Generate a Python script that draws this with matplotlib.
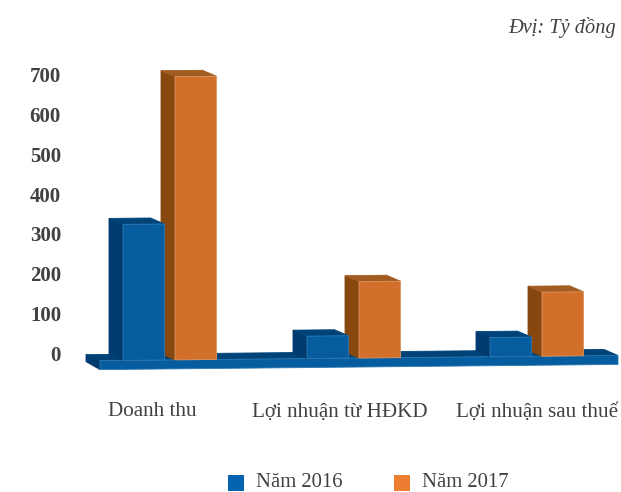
import matplotlib
matplotlib.use("Agg")
import matplotlib.pyplot as plt
from matplotlib.patches import Polygon

categories = ["Doanh thu", "Lợi nhuận từ HĐKD", "Lợi nhuận sau thuế"]
series_names = ["Năm 2016", "Năm 2017"]
values_2016 = [340, 56, 48]
values_2017 = [708, 191, 160]
y_ticks = [0, 100, 200, 300, 400, 500, 600, 700]
unit_label = "Đvị: Tỷ đồng"

W, H = 621, 492
PX_PER_UNIT = 0.4
DEPTH_X, DEPTH_Y = -14, -6
BAR_W = 41.5
TEXT = "#414042"

BLUE = {"front": "#055da0", "side": "#003b70", "top": "#004379", "edge": "#2f78b0"}
ORANGE = {"front": "#d2702b", "side": "#86480f", "top": "#a25c20", "edge": "#dd9462"}

# left edge of the front face for each bar
blue_x = [123, 307, 490]
orange_x = [175, 359, 542]
label_x = [152.5, 339.5, 537.5]


def base_y(x):
    # the whole chart is tilted a little in the source
    return 360.4 - (x - 123) * 0.0100


def face(ax, pts, color, edge=None):
    ax.add_patch(Polygon(pts, closed=True, facecolor=color,
                         edgecolor=edge or color, linewidth=0.6))


def draw_bar(ax, x, value, c):
    x2 = x + BAR_W
    y0, y1 = base_y(x), base_y(x2)
    h = value * PX_PER_UNIT
    t0, t1 = y0 - h, y1 - h
    face(ax, [(x, y0), (x, t0), (x + DEPTH_X, t0 + DEPTH_Y),
              (x + DEPTH_X, y0 + DEPTH_Y)], c["side"])
    face(ax, [(x, t0), (x + DEPTH_X, t0 + DEPTH_Y),
              (x2 + DEPTH_X, t1 + DEPTH_Y), (x2, t1)], c["top"])
    face(ax, [(x, y0), (x, t0), (x2, t1), (x2, y1)], c["front"], c["edge"])


fig = plt.figure(figsize=(W / 100, H / 100), dpi=100)
ax = fig.add_axes([0, 0, 1, 1])
ax.set_xlim(0, W)
ax.set_ylim(H, 0)
ax.axis("off")
plt.rcParams["font.family"] = ["Liberation Serif", "DejaVu Serif"]

# floor
left, right = 100, 618
thick = 9
face(ax, [(left, base_y(left)), (left + DEPTH_X, base_y(left) + DEPTH_Y),
          (right + DEPTH_X, base_y(right) + DEPTH_Y),
          (right, base_y(right))], "#004379")
face(ax, [(left, base_y(left)), (left + DEPTH_X, base_y(left) + DEPTH_Y),
          (left + DEPTH_X, base_y(left) + DEPTH_Y + thick - 2),
          (left, base_y(left) + thick)], "#003b70")
face(ax, [(left, base_y(left)), (right, base_y(right)),
          (right, base_y(right) + thick), (left, base_y(left) + thick)],
     "#055da0", "#2f78b0")

# orange goes first, the blue front overlaps its side face
for x, v in zip(orange_x, values_2017):
    draw_bar(ax, x, v, ORANGE)
for x, v in zip(blue_x, values_2016):
    draw_bar(ax, x, v, BLUE)

for t in y_ticks:
    ax.text(61, 356 - t * 0.3986, str(t), ha="right", va="center",
            fontsize=15, fontweight="bold", color=TEXT)

for x, name in zip(label_x, categories):
    ax.text(x, 412, name, ha="center", va="center", fontsize=15.2, color=TEXT)

ax.text(616, 28, unit_label, ha="right", va="center", fontsize=14.7,
        style="italic", color=TEXT)

# legend, baseline kept a bit high so the text box stays inside the figure
for x, name, color in zip([228, 394], series_names, ["#0563b0", "#ed7d31"]):
    ax.add_patch(Polygon([(x, 475), (x + 16, 475), (x + 16, 491), (x, 491)],
                         closed=True, facecolor=color, edgecolor="none"))
    ax.text(x + 28, 487, name, ha="left", va="baseline", fontsize=14.9, color=TEXT)

fig.savefig("out.png", dpi=100)
